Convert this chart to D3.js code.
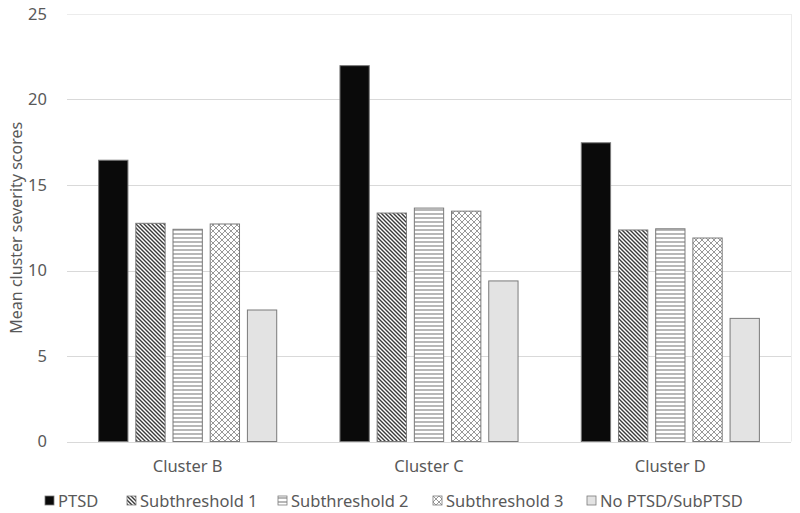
<!DOCTYPE html>
<html>
<head>
<meta charset="utf-8">
<script src="https://cdn.jsdelivr.net/npm/d3@7"></script>
<style>
body { margin: 0; background: #fff; }
text { font-family: "Noto Sans", "Open Sans", sans-serif; fill: #595959; }
</style>
</head>
<body>
<div id="chart"></div>
<script>
var width = 800;
var height = 513;

// data
var clusters = ["Cluster B", "Cluster C", "Cluster D"];
var groups = ["PTSD", "Subthreshold 1", "Subthreshold 2", "Subthreshold 3", "No PTSD/SubPTSD"];
var ptsd = [16.45, 21.98, 17.47];
var sub1 = [12.76, 13.36, 12.37];
var sub2 = [12.41, 13.65, 12.44];
var sub3 = [12.72, 13.47, 11.9];
var noPtsd = [7.69, 9.39, 7.2];
var yTicks = [0, 5, 10, 15, 20, 25];

var series = [ptsd, sub1, sub2, sub3, noPtsd];
var fills = ["#0a0a0a", "url(#hatch1)", "url(#hatch2)", "url(#hatch3)", "#e3e3e3"];

var plot = {left: 67, right: 791, top: 14, bottom: 441.5};
var fs = "16.5px";

var svg = d3.select("#chart").append("svg")
	.attr("width", width)
	.attr("height", height);

// patterns for the hatched bars
var defs = svg.append("defs");
var p1 = defs.append("pattern").attr("id", "hatch1")
	.attr("patternUnits", "userSpaceOnUse").attr("width", 4).attr("height", 4);
p1.append("rect").attr("width", 4).attr("height", 4).attr("fill", "#fff");
p1.append("path").attr("d", "M0,0 L4,4 M-1,3 L1,5 M3,-1 L5,1")
	.attr("stroke", "#3a3a3a").attr("stroke-width", 1.4);

var p2 = defs.append("pattern").attr("id", "hatch2")
	.attr("patternUnits", "userSpaceOnUse").attr("width", 4).attr("height", 4);
p2.append("rect").attr("width", 4).attr("height", 4).attr("fill", "#fff");
p2.append("path").attr("d", "M0,2 L4,2")
	.attr("stroke", "#888").attr("stroke-width", 1.2);

var p3 = defs.append("pattern").attr("id", "hatch3")
	.attr("patternUnits", "userSpaceOnUse").attr("width", 6).attr("height", 6);
p3.append("rect").attr("width", 6).attr("height", 6).attr("fill", "#fff");
p3.append("path").attr("d", "M0,0 L6,6 M6,0 L0,6")
	.attr("stroke", "#999").attr("stroke-width", 1);

var y = d3.scaleLinear().domain([0, 25]).range([plot.bottom, plot.top]);
var x0 = d3.scaleBand().domain(clusters).range([plot.left, plot.right]);
var x1 = d3.scaleBand().domain(groups).range([0, x0.bandwidth()])
	.paddingInner(0.212).paddingOuter(0.85);

// gridlines
svg.append("g").selectAll("line").data(yTicks)
	.enter().append("line")
	.attr("x1", plot.left).attr("x2", plot.right)
	.attr("y1", function(d) { return Math.round(y(d)) + 0.5; })
	.attr("y2", function(d) { return Math.round(y(d)) + 0.5; })
	.attr("stroke", function(d) { return d == 25 ? "#ececec" : "#d9d9d9"; })
	.attr("stroke-width", 1.2);

svg.append("line")
	.attr("x1", plot.right + 0.5).attr("x2", plot.right + 0.5)
	.attr("y1", plot.top).attr("y2", plot.bottom)
	.attr("stroke", "#ececec");

// y axis labels
var yAxis = d3.axisLeft(y).tickValues(yTicks).tickSize(0).tickPadding(0);
var ya = svg.append("g")
	.attr("transform", "translate(" + (plot.left - 20) + ",0)")
	.call(yAxis);
ya.select(".domain").remove();
ya.selectAll("text").style("font-size", fs).attr("fill", "#595959")
	.style("font-family", null);

svg.append("text")
	.attr("transform", "translate(22," + ((plot.top + plot.bottom) / 2) + ") rotate(-90)")
	.attr("text-anchor", "middle")
	.style("font-size", "16px")
	.text("Mean cluster severity scores");

// bars
var groupG = svg.append("g").selectAll("g").data(series)
	.enter().append("g")
	.attr("fill", function(d, i) { return fills[i]; });

groupG.selectAll("rect")
	.data(function(d, i) {
		return d.map(function(v, j) { return {v: v, c: clusters[j], g: groups[i]}; });
	})
	.enter().append("rect")
	.attr("x", function(d) { return x0(d.c) + x1(d.g); })
	.attr("y", function(d) { return y(d.v); })
	.attr("width", x1.bandwidth())
	.attr("height", function(d) { return y(0) - y(d.v); })
	.attr("stroke", "#7a7a7a")
	.attr("stroke-width", 1);

// category labels
svg.append("g").selectAll("text").data(clusters)
	.enter().append("text")
	.attr("x", function(d) { return x0(d) + x0.bandwidth() / 2; })
	.attr("y", 472)
	.attr("text-anchor", "middle")
	.style("font-size", fs)
	.text(function(d) { return d; });

// legend
var legendX = [45, 127, 278, 433, 587];
var leg = svg.append("g").selectAll("g").data(groups)
	.enter().append("g")
	.attr("transform", function(d, i) { return "translate(" + legendX[i] + ",496)"; });
leg.append("rect")
	.attr("width", 9).attr("height", 9)
	.attr("fill", function(d, i) { return fills[i]; })
	.attr("stroke", "#7a7a7a").attr("stroke-width", 0.8);
leg.append("text")
	.attr("x", 13).attr("y", 10.5)
	.style("font-size", fs)
	.text(function(d) { return d; });
</script>
</body>
</html>
